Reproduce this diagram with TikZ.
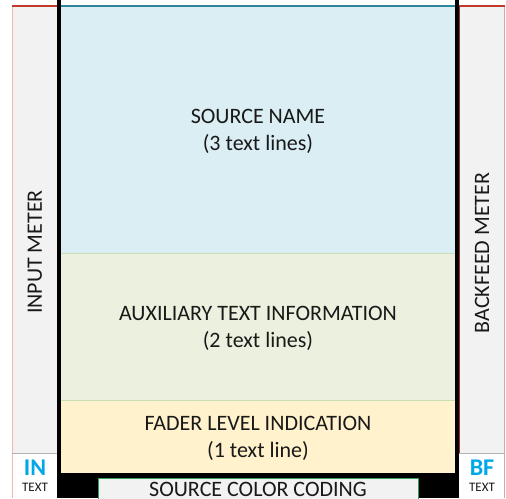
\documentclass[tikz,border=0pt]{standalone}
\usepackage{fontspec}
\setmainfont{Carlito}
\definecolor{meterbg}{HTML}{F2F2F2}
\definecolor{srcblue}{HTML}{DAEEF3}
\definecolor{auxgreen}{HTML}{EBF1DE}
\definecolor{faderyel}{HTML}{FFF2CC}
\definecolor{topblue}{HTML}{31849B}
\definecolor{topred}{HTML}{C0392B}
\definecolor{edgepink}{HTML}{F4B6B8}
\definecolor{sepgreen}{HTML}{C5E0B4}
\definecolor{inblue}{HTML}{00A8E8}
\definecolor{codegreen}{HTML}{2E9E5B}
\tikzset{
  x=1pt,y=-1pt,
  lbl/.style={font=\fontsize{22}{27}\selectfont, align=center, text=black!90},
  vlbl/.style={font=\fontsize{22}{27}\selectfont, rotate=90, text=black!90},
  bigab/.style={font=\fontsize{24}{25}\bfseries\selectfont, text=inblue, inner sep=0},
  smallab/.style={font=\fontsize{13}{14}\selectfont, text=black!90, inner sep=0},
}
\begin{document}
\begin{tikzpicture}
\useasboundingbox (0,0) rectangle (506,498);
\fill[white] (0,0) rectangle (506,498);
% meters
\fill[meterbg] (12,6) rectangle (57,453);
\fill[meterbg] (459,6) rectangle (505,453);
\draw[edgepink,line width=1.2] (12.5,6) -- (12.5,498);
\draw[edgepink!70!gray,line width=1.2] (504.5,6) -- (504.5,498);
\draw[topred,line width=1.5] (12,6) -- (57,6);
\draw[topred,line width=1.5] (459,6) -- (505,6);
\draw[topred!80!black,line width=0.8] (459.5,6) -- (459.5,453);
% black frame
\fill[black] (57,0) rectangle (61,498);
\fill[black] (455,0) rectangle (459,498);
\fill[black] (57,473) rectangle (459,498);
% regions
\fill[srcblue] (61,6) rectangle (455,253);
\fill[auxgreen] (61,253) rectangle (455,400);
\fill[faderyel] (61,400) rectangle (455,473);
\draw[topblue,line width=1.5] (61,6) -- (455,6);
\draw[sepgreen,line width=1] (61,253) -- (455,253);
\draw[sepgreen,line width=1] (61,400) -- (455,400);
% IN / BF boxes
\fill[white] (12.9,453) rectangle (57,498);
\fill[white] (459,453) rectangle (504.1,498);
\draw[gray!60,line width=0.8] (12,453) -- (57,453);
\draw[gray!60,line width=0.8] (459,453) -- (505,453);
% source color coding
\draw[codegreen,fill=meterbg,line width=0.8] (98,478) rectangle (418,505);
% texts
\node[lbl] (src) at (258,131) {SOURCE NAME\\(3 text lines)};
\node[lbl] (aux) at (258,328) {AUXILIARY TEXT INFORMATION\\(2 text lines)};
\node[lbl] (fad) at (258,438.5) {FADER LEVEL INDICATION\\(1 text line)};
\node[vlbl] (inm) at (35,252) {INPUT METER};
\node[vlbl] (bfm) at (482,253) {BACKFEED METER};
\node[bigab] (in) at (35,468) {IN};
\node[smallab] (intext) at (35,487) {TEXT};
\node[bigab] (bf) at (482,468) {BF};
\node[smallab] (bftext) at (482,487) {TEXT};
\node[font=\fontsize{22}{24}\selectfont, text=black!90] (scc) at (258,489) {SOURCE COLOR CODING};
\end{tikzpicture}
\end{document}
